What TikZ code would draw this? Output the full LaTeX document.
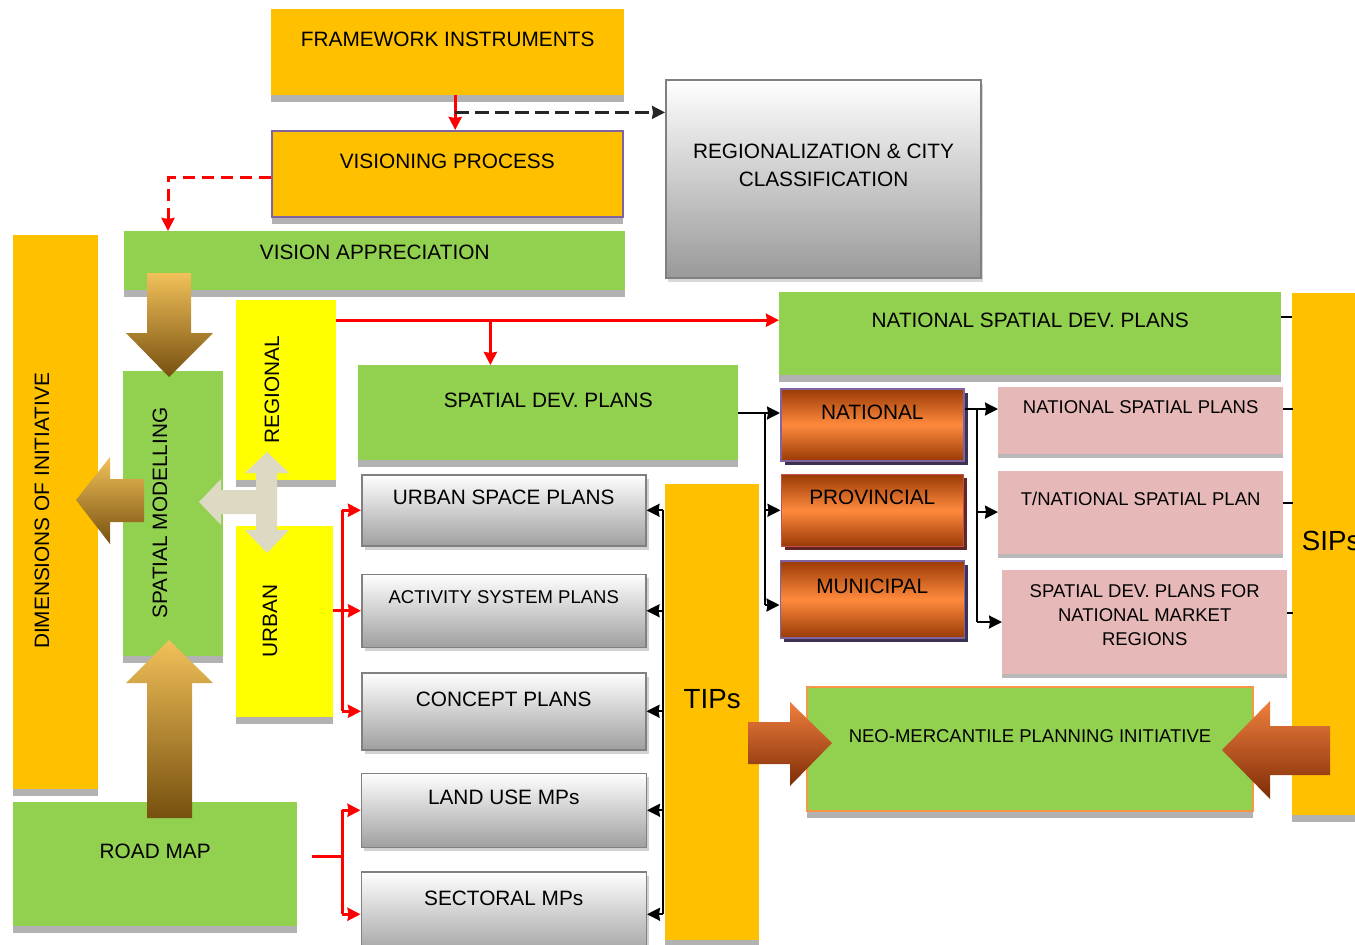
\documentclass[tikz,border=0pt]{standalone}
\usepackage{fontspec}
\setmainfont{Liberation Sans}
\usepackage{tikz}
\usetikzlibrary{arrows.meta, positioning, shadows}

\definecolor{gold}{HTML}{FFC000}
\definecolor{leaf}{HTML}{92D050}
\definecolor{lemon}{HTML}{FFFF00}
\definecolor{rose}{HTML}{E6B9B8}
\definecolor{sand}{HTML}{DDD9C3}
\definecolor{lilac}{HTML}{8064A2}
\definecolor{plum}{HTML}{3F3151}
\definecolor{brick}{HTML}{C0504D}
\definecolor{darkbrick}{HTML}{632523}
\definecolor{rust}{HTML}{9A3A06}
\definecolor{ember}{HTML}{FF8A3D}
\definecolor{peach}{HTML}{F79646}
\definecolor{ochre}{HTML}{F2C15A}
\definecolor{bark}{HTML}{76500F}
\definecolor{flame}{HTML}{F07F3E}
\definecolor{umber}{HTML}{7E2C06}

\begin{document}
\begin{tikzpicture}[
    x=1pt, y=-1pt,
    bigtext/.style={font=\fontsize{20.8}{28}\selectfont},
    smalltext/.style={font=\fontsize{18.5}{24}\selectfont},
    hugetext/.style={font=\fontsize{27.7}{32}\selectfont},
    box/.style={rectangle, anchor=north west, inner xsep=0pt, inner ysep=0pt, align=center, bigtext},
    strip/.style={general shadow={fill=gray!60, shadow yshift=-7pt}},
    goldbox/.style={box, fill=gold, strip},
    greenbox/.style={box, fill=leaf, strip},
    yellowbox/.style={box, fill=lemon, strip},
    pinkbox/.style={box, fill=rose, smalltext, general shadow={fill=gray!55, shadow yshift=-4pt}},
    greybox/.style={box, draw=gray, line width=1.5pt, top color=white, bottom color=gray!75, general shadow={fill=gray!35, shadow xshift=3pt, shadow yshift=-4pt}},
    orangebox/.style 2 args={box, draw=#1, line width=1.5pt, top color=rust, bottom color=rust, middle color=ember, general shadow={fill=#2, shadow xshift=4pt, shadow yshift=-4pt}},
    vlabel/.style={rotate=90, inner sep=0pt, bigtext},
    arrow/.style={->, >={Stealth[length=13pt, width=13pt, inset=1pt]}},
    redline/.style={draw=red, line width=3pt},
    redarrow/.style={arrow, redline},
    reddash/.style={redarrow, dash pattern=on 12pt off 7pt},
    blackline/.style={line width=2pt},
    blackarrow/.style={arrow, blackline},
    dasharrow/.style={blackarrow, draw=black!85, line width=2.5pt, dash pattern=on 14pt off 6pt},
    goldarrow/.style={top color=ochre, bottom color=bark},
    firearrow/.style={top color=flame, bottom color=umber}
]
\useasboundingbox (0,0) rectangle (1355,945);
\clip (0,0) rectangle (1355,945);

% Nodes
\node[goldbox, minimum width=353pt, text height=37.4pt, text depth=48.6pt] (frame) at (271,9) {FRAMEWORK INSTRUMENTS};
\node[goldbox, draw=lilac, line width=1.5pt, minimum width=351pt, text height=37.4pt, text depth=48.6pt] (vispro) at (271,130) {VISIONING PROCESS};
\node[box, draw=gray, line width=2pt, top color=white, bottom color=gray!80, general shadow={fill=gray!30, shadow xshift=2pt, shadow yshift=-4pt}, minimum width=315pt, text height=106.4pt, text depth=91.6pt] (regio) at (665,79) {REGIONALIZATION \& CITY\\CLASSIFICATION};
\node[greenbox, minimum width=501pt, text height=28.4pt, text depth=30.6pt] (apprec) at (124,231) {VISION APPRECIATION};

\node[goldbox, minimum width=85pt, minimum height=554pt] (dims) at (13,235) {};
\node[greenbox, minimum width=100pt, minimum height=285pt] (spmod) at (123,371) {};
\node[yellowbox, minimum width=100pt, minimum height=180pt] (regional) at (236,300) {};
\node[yellowbox, minimum width=97pt, minimum height=191pt] (urban) at (236,526) {};
\node[greenbox, minimum width=284pt, text height=56.4pt, text depth=67.6pt] (roadmap) at (13,802) {ROAD MAP};

\node[greenbox, minimum width=502pt, text height=35.4pt, text depth=47.6pt] (natdev) at (779,292) {NATIONAL SPATIAL DEV. PLANS};
\node[greenbox, minimum width=380pt, text height=42.4pt, text depth=52.6pt] (sdp) at (358,365) {SPATIAL DEV. PLANS};

\node[greybox, minimum width=284pt, text height=29.4pt, text depth=41.6pt] (usp) at (361,474) {URBAN SPACE PLANS};
\node[greybox, smalltext, minimum width=284pt, text height=29.6pt, text depth=43.4pt, below=27pt of usp] (asp) {ACTIVITY SYSTEM PLANS};
\node[greybox, minimum width=284pt, text height=33.4pt, text depth=43.6pt, below=24pt of asp] (cp) {CONCEPT PLANS};
\node[greybox, minimum width=285pt, text height=31.4pt, text depth=42.6pt, below=22pt of cp] (lu) {LAND USE MPs};
\node[greybox, minimum width=285pt, text height=33.4pt, text depth=51.6pt, below=23pt of lu] (sec) {SECTORAL MPs};

\node[goldbox, hugetext, minimum width=94pt, text height=223.9pt, text depth=232.1pt] (tips) at (665,484) {TIPs};

\node[orangebox={lilac}{plum}, minimum width=183pt, text height=30.4pt, text depth=41.6pt] (nat) at (780,388) {NATIONAL};
\node[orangebox={brick}{darkbrick}, minimum width=182pt, text height=30.4pt, text depth=41.6pt, below=12pt of nat] (prov) {PROVINCIAL};
\node[orangebox={lilac}{plum}, minimum width=184pt, text height=32.4pt, text depth=44.6pt, below=13pt of prov] (muni) {MUNICIPAL};

\node[pinkbox, minimum width=285pt, text height=26.6pt, text depth=40.4pt] (nsp) at (998,387) {NATIONAL SPATIAL PLANS};
\node[pinkbox, minimum width=285pt, text height=34.6pt, text depth=48.4pt, below=16pt of nsp] (tnsp) {T/NATIONAL SPATIAL PLAN};
\node[pinkbox, minimum width=285pt, text height=75.6pt, text depth=28.4pt, below=16pt of tnsp, xshift=4pt] (nmr) {SPATIAL DEV. PLANS FOR\\NATIONAL MARKET\\REGIONS};

\node[greenbox, smalltext, draw=peach, line width=2pt, minimum width=446pt, text height=55.6pt, text depth=68.4pt] (neo) at (806,686) {NEO-MERCANTILE PLANNING INITIATIVE};
\node[goldbox, hugetext, minimum width=78pt, text height=256.9pt, text depth=265.1pt] (sips) at (1292,293) {SIPs};

% Block arrows
\path[goldarrow] (147,273) -- (191,273) -- (191,333) -- (213,333) -- (169,377) -- (126,333) -- (147,333) -- cycle;
\path[goldarrow] (144,479) -- (110,479) -- (110,457) -- (76,500) -- (110,544) -- (110,522) -- (144,522) -- cycle;
\path[goldarrow] (147,818) -- (147,683) -- (126,683) -- (169,640) -- (213,683) -- (192,683) -- (192,818) -- cycle;
\fill[sand] (267,452) -- (289,473) -- (277,473) -- (277,530) -- (289,530) -- (267,553) -- (245,530) -- (256,530) -- (256,514) -- (221,514) -- (221,525) -- (199,502) -- (221,479) -- (221,490) -- (256,490) -- (256,473) -- (245,473) -- cycle;
\path[firearrow] (748,722) -- (790,722) -- (790,702) -- (832,743) -- (790,786) -- (790,764) -- (748,764) -- cycle;
\path[firearrow] (1330,726) -- (1270,726) -- (1270,701) -- (1222,750) -- (1270,799) -- (1270,775) -- (1330,775) -- cycle;

% Upright labels
\node[vlabel] (dimstext) at (42,511) {DIMENSIONS OF INITIATIVE};
\node[vlabel] (spmodtext) at (160,513) {SPATIAL MODELLING};
\node[vlabel] (regionaltext) at (272,390) {REGIONAL};
\node[vlabel] (urbantext) at (270,621) {URBAN};

% Arrows
\coordinate (fsplit) at ([xshift=7.5pt, yshift=-17pt]frame.south);
\draw[redarrow] (fsplit |- frame.south) -- (fsplit |- vispro.north);
\draw[dasharrow] (fsplit) -- (fsplit -| regio.west);
\draw[reddash] ([yshift=-4pt]vispro.west) -| ([xshift=44pt]apprec.north west);

\coordinate (rsplit) at ([yshift=70pt]regional.east);
\coordinate (sdpsplit) at ([xshift=154pt]rsplit);
\draw[redarrow] (rsplit) -- (rsplit -| natdev.west);
\draw[redarrow] (sdpsplit) -- (sdpsplit |- sdp.north);

\coordinate (ubar) at (342,0);
\draw[redline] (urban.east |- asp.west) -- (ubar |- asp.west);
\draw[redline] (ubar |- usp.west) -- (ubar |- cp.west);
\draw[redarrow] (ubar |- usp.west) -- (usp.west);
\draw[redarrow] (ubar |- asp.west) -- (asp.west);
\draw[redarrow] (ubar |- cp.west) -- (cp.west);

\coordinate (rmstart) at ([xshift=15pt, yshift=8pt]roadmap.east);
\draw[redline] (rmstart) -- (rmstart -| ubar);
\draw[redline] (ubar |- lu.west) -- (ubar |- sec.west);
\draw[redarrow] (ubar |- lu.west) -- (lu.west);
\draw[redarrow] (ubar |- sec.west) -- (sec.west);

\coordinate (tbar) at (663,0);
\draw[blackline] (tbar |- usp.east) -- (tbar |- sec.east);
\draw[blackarrow] (tbar |- usp.east) -- (usp.east);
\draw[blackarrow] (tbar |- asp.east) -- (asp.east);
\draw[blackarrow] (tbar |- cp.east) -- (cp.east);
\draw[blackarrow] (tbar |- lu.east) -- (lu.east);
\draw[blackarrow] (tbar |- sec.east) -- (sec.east);

\coordinate (sbar) at (765,413);
\coordinate (sbarend) at (765,605);
\draw[blackline] (sbar -| sdp.east) -- (sbar);
\draw[blackarrow] (sbar) -- (sbar -| nat.west);
\draw[blackline] (sbar) -- (sbarend);
\draw[blackarrow] (sbar |- prov.west) -- (prov.west);
\draw[blackarrow] (sbarend) -- (sbarend -| muni.west);

\coordinate (nbar) at (977,409);
\draw[blackline] (nbar -| nat.east) -- (nbar);
\draw[blackarrow] (nbar) -- (nbar -| nsp.west);
\draw[blackline] (nbar) -- (nbar |- nmr.west);
\draw[blackarrow] (nbar |- tnsp.west) -- (tnsp.west);
\draw[blackarrow] (nbar |- nmr.west) -- (nmr.west);

\draw[blackline] ([yshift=17pt]natdev.east) -- ++(11,0);
\draw[blackline] ([yshift=12pt]nsp.east) -- ++(10,0);
\draw[blackline] ([yshift=9pt]tnsp.east) -- ++(10,0);
\draw[blackline] ([yshift=9pt]nmr.east) -- ++(6,0);

\end{tikzpicture}
\end{document}
